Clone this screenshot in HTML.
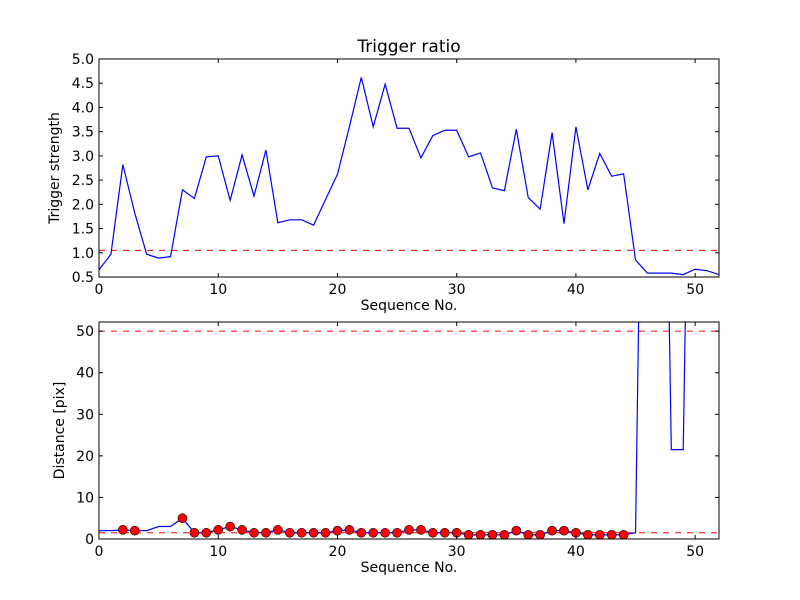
<!DOCTYPE html>
<html><head><meta charset="utf-8"><style>body{margin:0;background:#fff}svg{display:block}text{font-family:"DejaVu Sans","Liberation Sans",sans-serif}</style></head>
<body>
<svg id="c" width="800" height="600" xmlns="http://www.w3.org/2000/svg">
<rect width="800" height="600" fill="#fff"/>
</svg>
<script>
const seqTop = Array.from({length:53},(_,i)=>i);
const strength = [0.65,0.97,2.82,1.82,0.97,0.89,0.92,2.3,2.12,2.98,3.0,2.08,3.02,2.17,3.12,1.62,1.68,1.68,1.57,2.1,2.62,3.6,4.62,3.6,4.48,3.57,3.57,2.96,3.42,3.53,3.53,2.98,3.06,2.34,2.28,3.55,2.14,1.9,3.48,1.6,3.6,2.3,3.05,2.58,2.63,0.85,0.58,0.58,0.58,0.55,0.66,0.63,0.55];
const strengthThreshold = 1.05;
const distance = [2,2,2.2,2,2,3,3,5,1.5,1.5,2.2,3,2.2,1.5,1.5,2.2,1.5,1.5,1.5,1.5,2,2.2,1.5,1.5,1.5,1.5,2.2,2.2,1.5,1.5,1.5,1,1,1,1,2,1,1,2,2,1.5,1,1,1,1,1.5,200,200,21.5,21.5,200,200,200];
const dotSeq = [2,3,7,8,9,10,11,12,13,14,15,16,17,18,19,20,21,22,23,24,25,26,27,28,29,30,31,32,33,34,35,36,37,38,39,40,41,42,43,44];
const distLow = 1.5, distHigh = 50;
const xTicks = [0,10,20,30,40,50];
const yTicksTop = [0.5,1.0,1.5,2.0,2.5,3.0,3.5,4.0,4.5,5.0];
const yTicksBot = [0,10,20,30,40,50];

const svg=document.getElementById('c');const NS='http://www.w3.org/2000/svg';
function mk(t,a,p){const e=document.createElementNS(NS,t);for(const k in a)e.setAttribute(k,a[k]);(p||svg).appendChild(e);return e;}
function panel(name,top,bot,ymin,ymax,yt,fmt,ylabel,title){
  const L=99,R=719;
  const g=mk('g',{});
  
  
  const sx=v=>L+(v-0)/52*(R-L), sy=v=>bot-(v-ymin)/(ymax-ymin)*(bot-top);
  const cid='clip'+name;
  const d=mk('defs',{},g);const cp=mk('clipPath',{id:cid},d);mk('rect',{x:L,y:top,width:R-L,height:bot-top},cp);
  const plot=mk('g',{'clip-path':'url(#'+cid+')'},g);
  return {g,plot,sx,sy,L,R,top,bot,finish(){
    mk('rect',{x:L,y:top,width:R-L,height:bot-top,fill:'none',stroke:'#000','stroke-width':1},g);
    xTicks.forEach(v=>{const x=sx(v);mk('line',{x1:x,x2:x,y1:bot,y2:bot-4,stroke:'#000'},g);mk('line',{x1:x,x2:x,y1:top,y2:top+4,stroke:'#000'},g);
      const t=mk('text',{x:x,y:bot+17,'text-anchor':'middle','font-size':14},g);t.textContent=v;});
    yt.forEach(v=>{const y=sy(v);mk('line',{x1:L,x2:L+4,y1:y,y2:y,stroke:'#000'},g);mk('line',{x1:R,x2:R-4,y1:y,y2:y,stroke:'#000'},g);
      const t=mk('text',{x:L-5,y:y+5,'text-anchor':'end','font-size':14},g);t.textContent=fmt(v);});
    const xl=mk('text',{x:(L+R)/2,y:bot+33,'text-anchor':'middle','font-size':14},g);xl.textContent='Sequence No.';
    
    const yc=(top+bot)/2, yx=name==='top-panel'?59:64;
    const yl=mk('text',{x:yx,y:yc,'text-anchor':'middle','font-size':14,transform:`rotate(-90 ${yx} ${yc})`},g);yl.textContent=ylabel;
    
    if(title){const tt=mk('text',{x:(L+R)/2,y:top-7,'text-anchor':'middle','font-size':17},g);tt.textContent=title;}
  }};
}
// top
const A=panel('top-panel',59,277,0.5,5.0,yTicksTop,v=>v.toFixed(1),'Trigger strength','Trigger ratio');
const th=mk('line',{x1:A.L,x2:A.R,y1:A.sy(strengthThreshold),y2:A.sy(strengthThreshold),stroke:'#f00','stroke-dasharray':'6,6'},A.plot);

const p1=mk('polyline',{points:strength.map((v,i)=>A.sx(seqTop[i])+','+A.sy(v)).join(' '),fill:'none',stroke:'#00f','stroke-width':1.2},A.plot);

A.finish();
// bottom
const B=panel('bottom-panel',322,539,0,52.2,yTicksBot,v=>v,'Distance [pix]',null);
[distLow,distHigh].forEach(v=>{const l=mk('line',{x1:B.L,x2:B.R,y1:B.sy(v),y2:B.sy(v),stroke:'#f00','stroke-dasharray':'6,6'},B.plot);
  });
const p2=mk('polyline',{points:distance.map((v,i)=>B.sx(i)+','+B.sy(v)).join(' '),fill:'none',stroke:'#00f','stroke-width':1.2},B.plot);

dotSeq.forEach(i=>{const c=mk('circle',{cx:B.sx(i),cy:B.sy(distance[i]),r:4.5,fill:'#f00',stroke:'#000','stroke-width':0.6},B.plot);
  
  });
B.finish();
</script>
</body></html>
